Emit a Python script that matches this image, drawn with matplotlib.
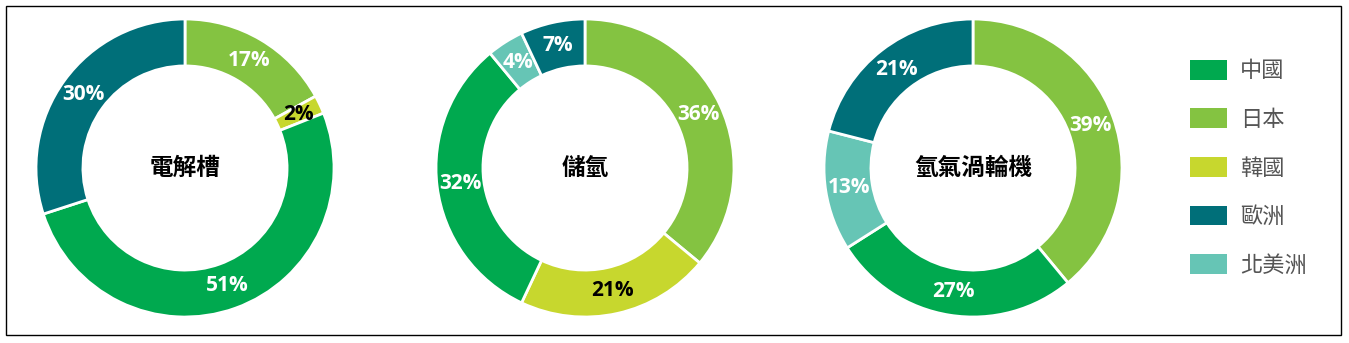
import numpy as np
import matplotlib.pyplot as plt
from matplotlib.patches import Patch, Rectangle

plt.rcParams['font.family'] = ['Noto Sans CJK TC', 'DejaVu Sans']

# 地區 (順時針次序) 同顏色
regions = ['日本', '韓國', '中國', '北美洲', '歐洲']
colors = {'中國': '#00A94F', '日本': '#84C341', '韓國': '#C7D72E',
          '歐洲': '#006F79', '北美洲': '#66C5B5'}
legend_order = ['中國', '日本', '韓國', '歐洲', '北美洲']

titles = ['電解槽', '儲氫', '氫氣渦輪機']
electrolyser = [17, 2, 51, 0, 30]
storage = [36, 21, 32, 4, 7]
turbine = [39, 0, 27, 13, 21]
all_values = [electrolyser, storage, turbine]

W, H = 1349, 343
fig = plt.figure(figsize=(W / 100, H / 100), dpi=100)

centers_x = [185, 585, 973]
cy = 168
R = 149

for cx, title, vals in zip(centers_x, titles, all_values):
    ax = fig.add_axes([(cx - R) / W, 1 - (cy + R) / H, 2 * R / W, 2 * R / H])
    keep = [(r, v) for r, v in zip(regions, vals) if v > 0]
    labs = [r for r, v in keep]
    nums = [v for r, v in keep]
    ax.pie(nums, colors=[colors[r] for r in labs], startangle=90,
           counterclock=False, radius=1,
           wedgeprops=dict(width=0.315, edgecolor='white', linewidth=2))
    # 百分比標籤
    ang = 90.0
    for r, v in keep:
        mid = np.deg2rad(ang - v * 3.6 / 2)
        ang -= v * 3.6
        ax.text(0.84 * np.cos(mid), 0.84 * np.sin(mid), f'{v}%',
                ha='center', va='center', fontsize=15, fontweight='bold',
                family=['Open Sans', 'DejaVu Sans'],
                color='black' if r == '韓國' else 'white')
    ax.text(0, 0, title, ha='center', va='center', fontsize=17, fontweight='bold',
            color='black')
    ax.set_xlim(-1, 1)
    ax.set_ylim(-1, 1)
    ax.axis('off')

handles = [Patch(facecolor=colors[r], edgecolor='none', label=r) for r in legend_order]
fig.legend(handles=handles, loc='center left', bbox_to_anchor=(1190 / W, 1 - 168 / H),
           frameon=False, fontsize=16, labelcolor='#555555', borderaxespad=0,
           borderpad=0, handlelength=1.65, handleheight=1.0, handletextpad=0.6,
           labelspacing=1.15)

fig.patches.append(Rectangle((6 / W, 1 - 335 / H), 1335 / W, 329 / H,
                             transform=fig.transFigure, fill=False,
                             edgecolor='black', linewidth=1))

plt.savefig('out.png', dpi=100)
